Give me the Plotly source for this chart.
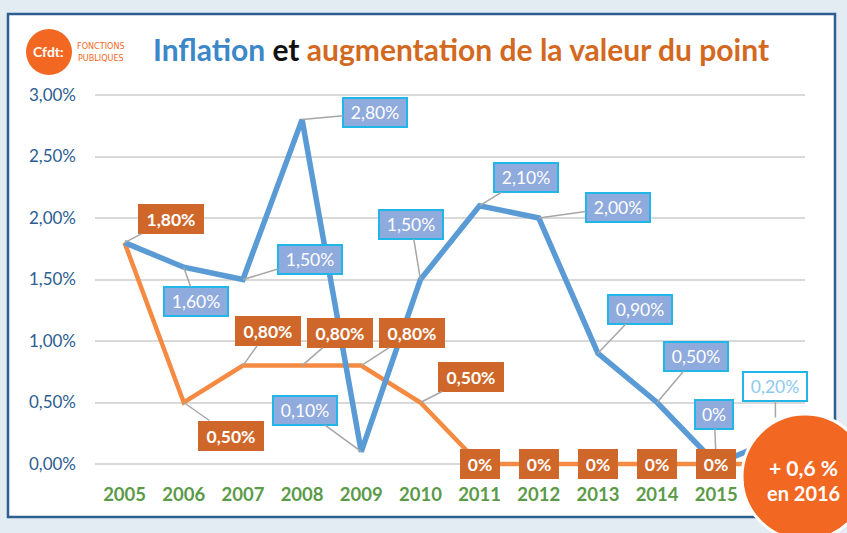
import plotly.graph_objects as go

years = [2005, 2006, 2007, 2008, 2009, 2010, 2011, 2012, 2013, 2014, 2015, 2016]
inflation = [1.8, 1.6, 1.5, 2.8, 0.1, 1.5, 2.1, 2.0, 0.9, 0.5, 0.0, 0.2]
point_value = [1.8, 0.5, 0.8, 0.8, 0.8, 0.5, 0.0, 0.0, 0.0, 0.0, 0.0, 0.0]
tick_years = [2005, 2006, 2007, 2008, 2009, 2010, 2011, 2012, 2013, 2014, 2015]
y_ticks = [0, 0.5, 1.0, 1.5, 2.0, 2.5, 3.0]
y_tick_text = ["0,00%", "0,50%", "1,00%", "1,50%", "2,00%", "2,50%", "3,00%"]

# label offsets (pixels) for inflation labels (None = no label)
infl_off = [None, (12, 34), (67, -20), (73, -7), (-56, -41), (-9, -55), (46, -28),
            (79, -11), (42, -44), (39, -46), (-2, -50), (0, -53)]
point_off = [(46, -24), (47, 33), (25, -35), (38, -33), (51, -33), (51, -26),
             (0, 0), (0, 0), (0, 0), (0, 0), (0, 0), None]

W, H = 847, 533
L, R, T, B = 95, 42, 80, 58
PW, PH = W - L - R, H - T - B


def px(x):
    return (x - L) / PW


def py(y):
    return (H - B - y) / PH


def fmt(v):
    if v == 0:
        return "0%"
    return ("%.2f" % v).replace(".", ",") + "%"


BLUE = "#5b9bd5"
ORANGE = "#f58a43"
LBL_BLUE = "#8faadc"
LBL_ORANGE = "#d0672a"
CYAN = "#22b5e8"
LEADER = "#a6a6a6"

fig = go.Figure()
fig.add_trace(go.Scatter(x=years, y=point_value, mode="lines",
                         line=dict(color=ORANGE, width=4.5), hoverinfo="skip",
                         showlegend=False))
fig.add_trace(go.Scatter(x=years, y=inflation, mode="lines",
                         line=dict(color=BLUE, width=5.5), hoverinfo="skip",
                         showlegend=False))

ann = []
FONT = "Lato"
for yr, v, off in zip(years, inflation, infl_off):
    if off is None:
        continue
    t = fmt(v)
    w = 32 if t == "0%" else 58
    last = (yr == 2016)
    ann.append(dict(x=yr, y=v, xref="x", yref="y", text=t,
                    showarrow=True, ax=off[0], ay=off[1], arrowhead=0,
                    arrowwidth=1.5, arrowcolor=LEADER,
                    standoff=22 if last else 0,
                    bgcolor="white" if last else LBL_BLUE,
                    bordercolor=CYAN, borderwidth=2, borderpad=2,
                    width=w, height=23,
                    font=dict(family=FONT, size=17.5,
                              color="#8ec9ef" if last else "white")))
for yr, v, off in zip(years, point_value, point_off):
    if off is None:
        continue
    t = fmt(v)
    w = 32 if t == "0%" else 58
    arrow = not (off[0] == 0 and off[1] == 0)
    d = dict(x=yr, y=v, xref="x", yref="y", text="<b>%s</b>" % t,
             bgcolor=LBL_ORANGE, borderwidth=0, borderpad=4,
             width=w, height=22,
             font=dict(family=FONT, size=17.5, color="white"))
    if arrow:
        d.update(showarrow=True, ax=off[0], ay=off[1], arrowhead=0,
                 arrowwidth=1.5, arrowcolor=LEADER)
    else:
        d.update(showarrow=False)
    ann.append(d)

# title
ann.append(dict(xref="paper", yref="paper", x=px(461), y=py(49),
                xanchor="center", yanchor="middle", showarrow=False,
                text="<b><span style='color:#3b87c8'>Inflation</span> "
                     "<span style='color:#111111'>et</span> "
                     "<span style='color:#d2691f'>augmentation de la valeur du point</span></b>",
                font=dict(family=FONT, size=30)))
# logo texts
ann.append(dict(xref="paper", yref="paper", x=px(48), y=py(51), xanchor="center",
                yanchor="middle", showarrow=False, text="<b>Cfdt:</b>",
                font=dict(family=FONT, size=14, color="white")))
ann.append(dict(xref="paper", yref="paper", x=px(75), y=py(52), xanchor="left",
                yanchor="middle", showarrow=False,
                text="FONCTIONS<br>PUBLIQUES",
                font=dict(family="DejaVu Sans Condensed", size=9, color="#f26722")))
# circle texts
ann.append(dict(xref="paper", yref="paper", x=px(803), y=py(467), xanchor="center",
                yanchor="middle", showarrow=False, text="<b>+ 0,6 %</b>",
                font=dict(family=FONT, size=21, color="white")))
ann.append(dict(xref="paper", yref="paper", x=px(803), y=py(493), xanchor="center",
                yanchor="middle", showarrow=False, text="<b>en 2016</b>",
                font=dict(family=FONT, size=20, color="white")))

shapes = [
    dict(type="rect", xref="paper", yref="paper", layer="below",
         x0=px(8), x1=px(835), y0=py(517), y1=py(14),
         fillcolor="white", line=dict(color="#2c5f8f", width=2.5)),
    dict(type="circle", xref="paper", yref="paper", layer="below",
         x0=px(26), x1=px(72), y0=py(75), y1=py(29),
         fillcolor="#f26722", line=dict(width=0)),
    dict(type="circle", xref="paper", yref="paper", layer="above",
         x0=px(805 - 63), x1=px(805 + 63), y0=py(477 + 63), y1=py(477 - 63),
         fillcolor="#f26722", line=dict(color="white", width=3)),
]

fig.update_layout(
    width=W, height=H,
    margin=dict(l=L, r=R, t=T, b=B),
    paper_bgcolor="#e3ebf3",
    plot_bgcolor="white",
    annotations=ann,
    shapes=shapes,
    showlegend=False,
    xaxis=dict(range=[2004.5, 2016.5], tickmode="array", tickvals=tick_years,
               ticktext=["<b>%d</b>" % y for y in tick_years],
               showgrid=False, zeroline=False, showline=False, ticks="",
               ticklabelstandoff=6,
               tickfont=dict(family=FONT, size=18.5, color="#5b9a48")),
    yaxis=dict(range=[-11 / 123.0, 3 + 15 / 123.0], tickmode="array",
               tickvals=y_ticks, ticktext=y_tick_text, showgrid=True,
               gridcolor="#d9d9d9", gridwidth=2, zeroline=False,
               showline=False, ticks="", ticklabelstandoff=18,
               tickfont=dict(family=FONT, size=17, color="#2d5d92")),
)

fig.write_html("out.html")
